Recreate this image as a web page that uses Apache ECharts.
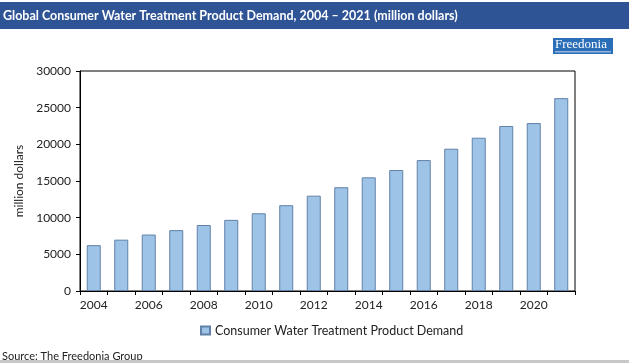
<!DOCTYPE html>
<html><head><meta charset="utf-8">
<script src="https://cdn.jsdelivr.net/npm/echarts@6/dist/echarts.min.js"></script>
<style>html,body{margin:0;padding:0;background:#fff}#c{width:629px;height:363px}</style>
</head><body><div id="c"></div>
<script>
const years = ['2004','2005','2006','2007','2008','2009','2010','2011','2012','2013','2014','2015','2016','2017','2018','2019','2020','2021'];
const demand = [6250,7000,7700,8300,9000,9700,10600,11700,13000,14150,15500,16500,17850,19400,20900,22500,22900,26300];
const seriesName = 'Consumer Water Treatment Product Demand';
const titleText = 'Global Consumer Water Treatment Product Demand, 2004 \u2013 2021 (million dollars)';
const yAxisName = 'million dollars';
const sourceText = 'Source: The Freedonia Group';
const FONT = 'Lato';

const chart = echarts.init(document.getElementById('c'), null, {renderer:'canvas'});
chart.setOption({
  animation:false,
  backgroundColor:'#fff',
  grid:{left:80,right:54,top:71,bottom:72,show:true,borderColor:'#000',borderWidth:1,backgroundColor:'transparent'},
  legend:{
    data:[seriesName], top:324, left:200, padding:0, itemWidth:9, itemHeight:8, itemGap:2,
    textStyle:{fontFamily:FONT,fontSize:12.5,color:'#222'}, icon:'rect'
  },
  xAxis:{
    type:'category', data:years, boundaryGap:true,
    axisLine:{lineStyle:{color:'#000',width:1}},
    axisTick:{show:true,alignWithLabel:false,interval:0,length:4,lineStyle:{color:'#000'}},
    axisLabel:{interval:1,fontFamily:FONT,fontSize:12,color:'#222',margin:8}
  },
  yAxis:{
    type:'value', min:0, max:30000, interval:5000,
    name:yAxisName, nameLocation:'middle', nameGap:52, nameRotate:90,
    nameTextStyle:{fontFamily:FONT,fontSize:12,color:'#222'},
    axisLine:{show:true,lineStyle:{color:'#000',width:1}},
    axisTick:{show:true,length:4,lineStyle:{color:'#000'}},
    splitLine:{show:false},
    axisLabel:{fontFamily:FONT,fontSize:12,color:'#222',margin:9,formatter:function(v){return String(v);}}
  },
  series:[{
    name:seriesName, type:'bar', data:demand, barWidth:'51%',
    itemStyle:{color:'#9DC3E6',borderColor:'#6181A8',borderWidth:1}
  }],
  graphic:[
    {type:'rect',shape:{x:0,y:2,width:629,height:27},style:{fill:'#2F5496'}},
    {type:'text',left:3,top:9,style:{text:titleText,fill:'#fff',font:'bold 12.5px '+FONT}},
    {type:'rect',shape:{x:553,y:38,width:60,height:16},style:{fill:'#2A6EB8'}},
    {type:'text',left:555,top:38,style:{text:'Freedonia',fill:'#fff',font:'13px "Liberation Serif"'}},
    {type:'rect',shape:{x:555,y:51.5,width:56,height:0.8},style:{fill:'#fff'}},
    {type:'text',left:2,top:351,style:{text:sourceText,fill:'#222',font:'11px '+FONT}},
    {type:'rect',shape:{x:0,y:360,width:629,height:3},style:{fill:'#c8c8c8'}}
  ]
});
</script></body></html>
